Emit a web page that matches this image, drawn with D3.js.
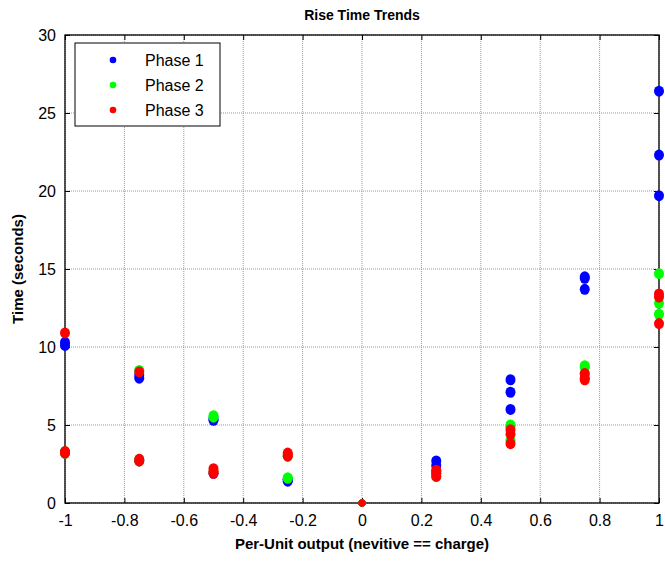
<!DOCTYPE html>
<html>
<head>
<meta charset="utf-8">
<script src="https://cdn.jsdelivr.net/npm/d3@7"></script>
<style>
	body { margin: 0; background: #fff; }
	text { font-family: "Liberation Sans", Arial, sans-serif; }
</style>
</head>
<body>
<div id="chart"></div>
<script>
// x positions (per-unit output)
var outputs = [-1, -0.75, -0.5, -0.25, 0, 0.25, 0.5, 0.75, 1];

// rise times per output, three runs each
var phase1 = [[10.3, 10.1, 3.2], [8.0, 8.2, 2.7], [5.3, 5.4, 1.9], [1.4, 1.5, 1.5], [0, 0, 0],
	[2.7, 2.4, 2.0], [7.9, 7.1, 6.0], [14.5, 14.4, 13.7], [26.4, 22.3, 19.7]];
var phase2 = [[3.3, 3.2, 3.2], [8.5, 2.8, 2.7], [5.6, 5.5, 2.0], [1.6, 1.6, 3.0], [0, 0, 0],
	[2.0, 1.9, 1.7], [5.0, 4.9, 4.0], [8.8, 8.7, 8.3], [14.7, 12.8, 12.1]];
var phase3 = [[10.9, 3.3, 3.2], [8.4, 2.8, 2.7], [2.2, 2.0, 1.9], [3.2, 3.0, 3.1], [0, 0, 0],
	[2.1, 1.9, 1.7], [4.7, 4.4, 3.8], [8.3, 8.0, 7.9], [13.4, 13.2, 11.5]];

var seriesNames = ["Phase 1", "Phase 2", "Phase 3"];
var seriesColors = ["#0000ff", "#00ff00", "#ff0000"];
var xTicks = [-1, -0.8, -0.6, -0.4, -0.2, 0, 0.2, 0.4, 0.6, 0.8, 1];
var yTicks = [0, 5, 10, 15, 20, 25, 30];

var width = 665, height = 561;
var margin = {top: 35, right: 6, bottom: 58, left: 65};
var w = width - margin.left - margin.right;
var h = height - margin.top - margin.bottom;

var svg = d3.select("#chart").append("svg")
	.attr("width", width)
	.attr("height", height);

svg.append("rect").attr("width", width).attr("height", height).attr("fill", "#fff");

var g = svg.append("g")
	.attr("transform", "translate(" + margin.left + "," + margin.top + ")");

var x = d3.scaleLinear().domain([-1, 1]).range([0, w]);
var y = d3.scaleLinear().domain([0, 30]).range([h, 0]);

// Grid
g.append("g")
	.selectAll("line.vgrid")
	.data(xTicks)
	.enter().append("line")
		.attr("x1", function(d) { return x(d); })
		.attr("x2", function(d) { return x(d); })
		.attr("y1", 0)
		.attr("y2", h)
		.attr("stroke", "#999")
		.attr("stroke-dasharray", "1,1");

g.append("g")
	.selectAll("line.hgrid")
	.data(yTicks)
	.enter().append("line")
		.attr("x1", 0)
		.attr("x2", w)
		.attr("y1", function(d) { return y(d); })
		.attr("y2", function(d) { return y(d); })
		.attr("stroke", "#999")
		.attr("stroke-dasharray", "1,1");

// Axes (ticks pointing inward, mirrored on top/right)
// plain hyphen for negatives, like the original
function fmt(d) { return String(+d.toFixed(1)); }

var xAxis = g.append("g")
	.attr("transform", "translate(0," + h + ")")
	.call(d3.axisBottom(x).tickValues(xTicks).tickSizeInner(-5).tickSizeOuter(0).tickPadding(12).tickFormat(fmt));
var yAxis = g.append("g")
	.call(d3.axisLeft(y).tickValues(yTicks).tickSizeInner(-5).tickSizeOuter(0).tickPadding(9).tickFormat(fmt));
g.append("g")
	.call(d3.axisTop(x).tickValues(xTicks).tickSizeInner(-5).tickSizeOuter(0).tickFormat(""));
g.append("g")
	.attr("transform", "translate(" + w + ",0)")
	.call(d3.axisRight(y).tickValues(yTicks).tickSizeInner(-5).tickSizeOuter(0).tickFormat(""));

g.selectAll(".domain").style("display", "none");
g.selectAll(".tick line").attr("stroke", "#000");
[xAxis, yAxis].forEach(function(a) {
	a.selectAll("text")
		.attr("fill", "#000")
		.style("font-size", "16px");
});

g.append("rect")
	.attr("width", w)
	.attr("height", h)
	.attr("fill", "none")
	.attr("stroke", "#000")
	.attr("stroke-width", 1.3);

// Points
[phase1, phase2, phase3].forEach(function(serie, i) {
	var pts = [];
	serie.forEach(function(vals, j) {
		vals.forEach(function(v) { pts.push({x: outputs[j], y: v}); });
	});
	g.selectAll(".dot.serie-" + i)
		.data(pts)
		.enter().append("ellipse")
			.attr("class", "dot serie-" + i)
			.attr("cx", function(d) { return x(d.x); })
			.attr("cy", function(d) { return y(d.y); })
			.attr("rx", function(d) { return d.y == 0 ? 3.5 : 5; })
			.attr("ry", function(d) { return d.y == 0 ? 3.5 : 5.5; })
			.attr("fill", seriesColors[i]);
});

// Legend
var legend = g.append("g").attr("transform", "translate(10,8)");
legend.append("rect")
	.attr("width", 145)
	.attr("height", 83)
	.attr("fill", "#fff")
	.attr("stroke", "#000");

var items = legend.selectAll(".legend")
	.data(seriesNames)
	.enter().append("g")
		.attr("class", "legend")
		.attr("transform", function(d, i) { return "translate(0," + (17 + i * 25) + ")"; });

items.append("circle")
	.attr("cx", 38)
	.attr("r", 3.3)
	.attr("fill", function(d, i) { return seriesColors[i]; });

items.append("text")
	.attr("x", 70)
	.attr("dy", "0.35em")
	.style("font-size", "16px")
	.text(function(d) { return d; });

// Titles
svg.append("text")
	.attr("x", margin.left + w / 2)
	.attr("y", 20)
	.attr("text-anchor", "middle")
	.style("font-size", "14px")
	.style("font-weight", "bold")
	.text("Rise Time Trends");

svg.append("text")
	.attr("x", margin.left + w / 2)
	.attr("y", 549)
	.attr("text-anchor", "middle")
	.style("font-size", "15px")
	.style("font-weight", "bold")
	.text("Per-Unit output (nevitive == charge)");

svg.append("text")
	.attr("transform", "translate(23," + (margin.top + h / 2) + ") rotate(-90)")
	.attr("text-anchor", "middle")
	.style("font-size", "15px")
	.style("font-weight", "bold")
	.text("Time (seconds)");
</script>
</body>
</html>
